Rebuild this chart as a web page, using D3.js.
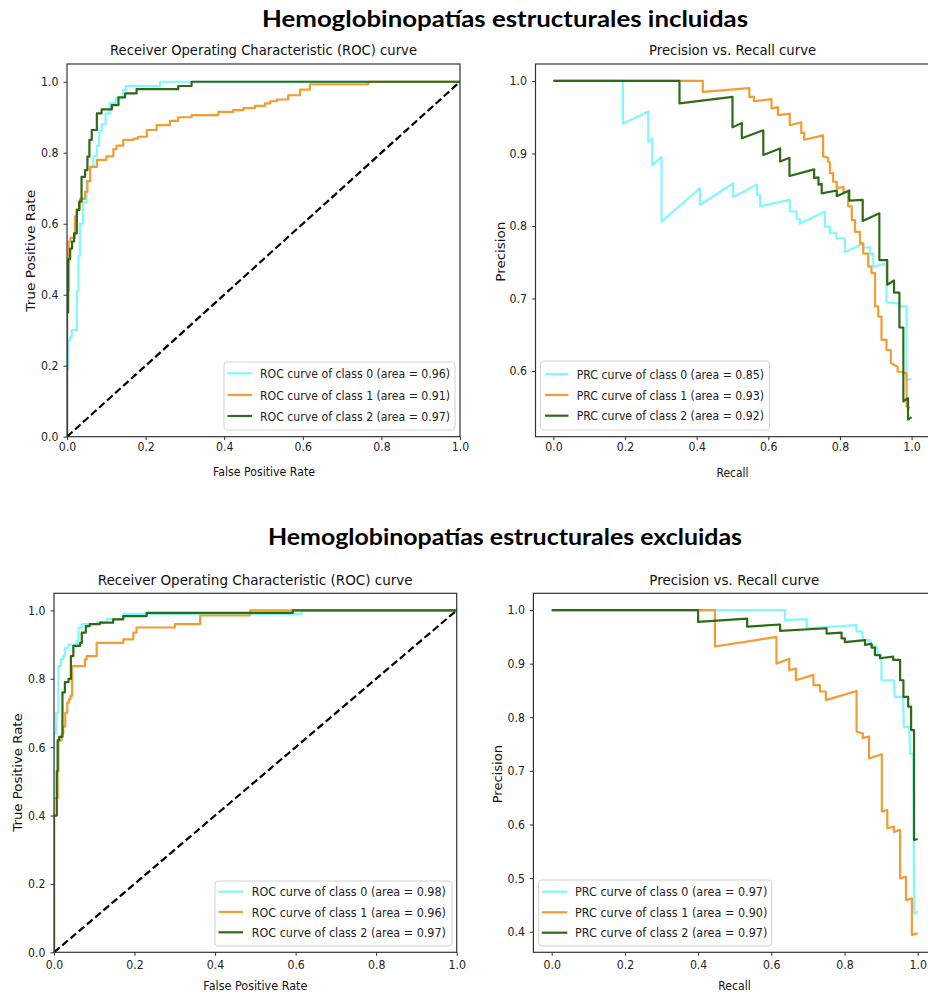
<!DOCTYPE html>
<html><head><meta charset="utf-8">
<script src="https://cdn.jsdelivr.net/npm/d3@7"></script>
<style>body{margin:0;background:#fff}svg{display:block}</style>
</head><body><svg id="c" width="928" height="994"></svg>
<script>
// ---------------- DATA ----------------
const headers = ["Hemoglobinopatías estructurales incluidas", "Hemoglobinopatías estructurales excluidas"];
const rocTitle = "Receiver Operating Characteristic (ROC) curve";
const prTitle = "Precision vs. Recall curve";
const classNames = ["class 0", "class 1", "class 2"];
const rocAreasIncl = [0.96, 0.91, 0.97];
const prcAreasIncl = [0.85, 0.93, 0.92];
const rocAreasExcl = [0.98, 0.96, 0.97];
const prcAreasExcl = [0.97, 0.90, 0.97];

const rocXTicks = [0, 0.2, 0.4, 0.6, 0.8, 1.0];
const rocYTicks = [0, 0.2, 0.4, 0.6, 0.8, 1.0];
const prXTicks = [0, 0.2, 0.4, 0.6, 0.8, 1.0];
const prYTicksIncl = [0.6, 0.7, 0.8, 0.9, 1.0];
const prYTicksExcl = [0.4, 0.5, 0.6, 0.7, 0.8, 0.9, 1.0];

// ROC curves: [fpr, tpr] corners (step after)
const rocInclClass0 = [[0,0],[0,0.19],[0.003,0.27],[0.008,0.28],[0.012,0.30],[0.025,0.41],[0.029,0.51],[0.033,0.60],[0.041,0.66],[0.05,0.72],[0.059,0.76],[0.067,0.79],[0.076,0.82],[0.082,0.86],[0.088,0.88],[0.098,0.91],[0.109,0.94],[0.125,0.955],[0.143,0.977],[0.15,0.988],[0.237,1.0],[1,1]];
const rocInclClass1 = [[0,0],[0,0.41],[0.004,0.55],[0.009,0.56],[0.02,0.62],[0.025,0.64],[0.033,0.67],[0.046,0.69],[0.052,0.72],[0.059,0.76],[0.076,0.78],[0.1,0.79],[0.118,0.81],[0.126,0.82],[0.143,0.836],[0.169,0.84],[0.181,0.845],[0.203,0.864],[0.228,0.878],[0.262,0.89],[0.283,0.90],[0.317,0.906],[0.385,0.915],[0.423,0.92],[0.449,0.926],[0.478,0.932],[0.504,0.939],[0.517,0.945],[0.534,0.95],[0.563,0.962],[0.593,0.978],[0.618,0.993],[0.767,1.0],[1,1]];
const rocInclClass2 = [[0,0],[0,0.35],[0.003,0.50],[0.008,0.53],[0.013,0.55],[0.018,0.573],[0.025,0.639],[0.031,0.662],[0.037,0.732],[0.046,0.751],[0.052,0.789],[0.057,0.836],[0.063,0.864],[0.076,0.911],[0.088,0.922],[0.114,0.934],[0.131,0.956],[0.148,0.967],[0.177,0.979],[0.283,0.988],[0.317,1.0],[1,1]];

const rocExclClass0 = [[0,0],[0,0.64],[0.005,0.70],[0.011,0.837],[0.017,0.857],[0.023,0.866],[0.027,0.89],[0.036,0.90],[0.056,0.91],[0.061,0.95],[0.069,0.96],[0.106,0.965],[0.131,0.975],[0.172,0.99],[0.615,1.0],[1,1]];
const rocExclClass1 = [[0,0],[0,0.45],[0.009,0.53],[0.011,0.62],[0.019,0.64],[0.023,0.66],[0.028,0.70],[0.033,0.73],[0.037,0.74],[0.041,0.75],[0.045,0.837],[0.077,0.857],[0.081,0.866],[0.106,0.905],[0.172,0.915],[0.197,0.935],[0.205,0.95],[0.3,0.96],[0.363,0.985],[0.487,1.0],[1,1]];
const rocExclClass2 = [[0,0],[0,0.40],[0.007,0.53],[0.009,0.62],[0.013,0.63],[0.021,0.76],[0.027,0.79],[0.036,0.80],[0.042,0.866],[0.048,0.896],[0.065,0.905],[0.069,0.935],[0.079,0.954],[0.089,0.96],[0.114,0.964],[0.147,0.974],[0.172,0.983],[0.23,0.993],[0.593,1.0],[1,1]];

// PR curves: [recall, precision]
const prInclClass0 = [[0,1],[0.194,1],[0.194,0.941],[0.265,0.958],[0.265,0.916],[0.276,0.921],[0.276,0.884],[0.302,0.895],[0.302,0.806],[0.409,0.852],[0.409,0.829],[0.502,0.859],[0.502,0.840],[0.568,0.857],[0.568,0.843],[0.577,0.843],[0.577,0.827],[0.66,0.836],[0.66,0.82],[0.679,0.82],[0.679,0.81],[0.688,0.81],[0.688,0.803],[0.758,0.82],[0.758,0.799],[0.772,0.799],[0.772,0.79],[0.79,0.79],[0.79,0.783],[0.814,0.783],[0.814,0.764],[0.865,0.776],[0.865,0.77],[0.884,0.771],[0.884,0.762],[0.893,0.762],[0.893,0.744],[0.93,0.748],[0.93,0.695],[0.967,0.693],[0.967,0.689],[0.986,0.689],[0.986,0.587],[1.0,0.59]];
const prInclClass1 = [[0,1],[0.417,1],[0.417,0.985],[0.547,0.99],[0.547,0.978],[0.56,0.978],[0.56,0.972],[0.609,0.975],[0.609,0.962],[0.627,0.964],[0.627,0.953],[0.66,0.955],[0.66,0.939],[0.692,0.943],[0.692,0.928],[0.7,0.929],[0.7,0.919],[0.753,0.925],[0.753,0.896],[0.767,0.894],[0.767,0.889],[0.772,0.887],[0.772,0.873],[0.781,0.873],[0.781,0.861],[0.791,0.861],[0.791,0.852],[0.81,0.854],[0.81,0.848],[0.823,0.846],[0.823,0.827],[0.833,0.827],[0.833,0.808],[0.842,0.808],[0.842,0.792],[0.856,0.792],[0.856,0.776],[0.865,0.776],[0.865,0.762],[0.879,0.762],[0.879,0.744],[0.888,0.744],[0.888,0.735],[0.898,0.735],[0.898,0.689],[0.907,0.689],[0.907,0.675],[0.916,0.675],[0.916,0.643],[0.93,0.643],[0.93,0.629],[0.942,0.629],[0.942,0.611],[0.961,0.606],[0.961,0.599],[0.977,0.599],[0.977,0.597],[0.986,0.597],[0.986,0.551],[0.995,0.549]];
const prInclClass2 = [[0,1],[0.352,1],[0.352,0.969],[0.5,0.978],[0.5,0.936],[0.526,0.942],[0.526,0.921],[0.586,0.932],[0.586,0.898],[0.633,0.907],[0.633,0.889],[0.659,0.894],[0.659,0.869],[0.728,0.878],[0.728,0.866],[0.74,0.867],[0.74,0.857],[0.749,0.858],[0.749,0.845],[0.791,0.849],[0.791,0.841],[0.826,0.849],[0.826,0.835],[0.8635,0.836],[0.8635,0.807],[0.91,0.8175],[0.91,0.753],[0.932,0.753],[0.932,0.719],[0.951,0.725],[0.951,0.708],[0.966,0.708],[0.966,0.66],[0.977,0.66],[0.977,0.558],[0.99,0.5625],[0.99,0.533],[1.0,0.5365]];

const prExclClass0 = [[0,1],[0.637,1],[0.637,0.981],[0.697,0.983],[0.697,0.966],[0.833,0.972],[0.833,0.96],[0.847,0.96],[0.852,0.944],[0.87,0.944],[0.874,0.935],[0.888,0.932],[0.892,0.916],[0.901,0.916],[0.901,0.869],[0.935,0.869],[0.937,0.838],[0.96,0.838],[0.962,0.782],[0.977,0.782],[0.979,0.732],[0.988,0.732],[0.99,0.434],[1.0,0.437]];
const prExclClass1 = [[0,1],[0.446,1],[0.446,0.932],[0.614,0.95],[0.614,0.9],[0.649,0.909],[0.649,0.888],[0.667,0.891],[0.667,0.869],[0.715,0.879],[0.715,0.86],[0.733,0.86],[0.733,0.848],[0.749,0.848],[0.749,0.832],[0.833,0.849],[0.833,0.773],[0.85,0.77],[0.85,0.761],[0.867,0.764],[0.867,0.723],[0.902,0.731],[0.902,0.624],[0.917,0.627],[0.917,0.593],[0.935,0.596],[0.935,0.586],[0.952,0.59],[0.952,0.4995],[0.968,0.5025],[0.968,0.459],[0.984,0.462],[0.984,0.394],[1.0,0.397]];
const prExclClass2 = [[0,1],[0.4,1],[0.4,0.978],[0.534,0.984],[0.534,0.969],[0.624,0.973],[0.624,0.961],[0.751,0.966],[0.751,0.956],[0.792,0.958],[0.792,0.947],[0.801,0.947],[0.801,0.94],[0.856,0.944],[0.856,0.935],[0.874,0.937],[0.874,0.93],[0.883,0.93],[0.883,0.916],[0.897,0.916],[0.897,0.91],[0.933,0.913],[0.933,0.907],[0.952,0.907],[0.952,0.869],[0.961,0.869],[0.961,0.838],[0.974,0.838],[0.974,0.82],[0.982,0.82],[0.982,0.776],[0.99,0.776],[0.99,0.571],[1.0,0.573]];

// ---------------- STYLE / LAYOUT ----------------
const colors = ["#80f8ff", "#f39c32", "#2f6a17"];
const FONT = "'DejaVu Sans', sans-serif";
const SQ = 0.9;

const svg = d3.select("#c");
function squeeze(sel, f) {
  sel.each(function () {
    const L = this.getComputedTextLength();
    this.setAttribute("textLength", L * f);
    this.setAttribute("lengthAdjust", "spacingAndGlyphs");
  });
}
function label(g, str, x, y, size, len, rot) {
  const t = g.append("text").attr("font-family", FONT).attr("font-size", size)
    .attr("fill", "#111").attr("text-anchor", "middle").text(str);
  if (rot) t.attr("transform", `translate(${x},${y}) rotate(-90)`);
  else t.attr("x", x).attr("y", y);
  if (len) t.attr("textLength", len).attr("lengthAdjust", "spacingAndGlyphs");
  return t;
}

// headers
[[headers[0], 27, 486], [headers[1], 545, 474]].forEach(([s, y, len]) => {
  svg.append("text").attr("x", 505).attr("y", y).attr("text-anchor", "middle")
    .attr("font-family", "Lato, 'Open Sans', sans-serif").attr("font-weight", 700)
    .attr("font-size", 23).attr("fill", "#000")
    .attr("textLength", len).attr("lengthAdjust", "spacingAndGlyphs").text(s);
});

const panels = [
  { kind: "roc", f: { l: 67, r: 460, t: 64, b: 436.7 }, xd: [0, 1], yd: [0, 1.05], xt: rocXTicks, yt: rocYTicks, xpad: 2.5,
    series: [rocInclClass0, rocInclClass1, rocInclClass2], areas: rocAreasIncl,
    title: [263.5, 55, 307], xl: ["False Positive Rate", 264, 476, 102], yl: ["True Positive Rate", 35, 250.8, 121.7],
    leg: { x: 224, y: 362, w: 231, h: 68, rows: [373.3, 395, 416], sw: [227.5, 252], tx: 260, tl: 190 } },
  { kind: "pr", f: { l: 535.5, r: 929.5, t: 64, b: 436.7 }, xd: [-0.05, 1.05], yd: [0.5094, 1.0234], xt: prXTicks, yt: prYTicksIncl, xpad: 2.5,
    series: [prInclClass0, prInclClass1, prInclClass2], areas: prcAreasIncl,
    title: [732.6, 55, 167], xl: ["Recall", 732.5, 476.5, 32], yl: ["Precision", 505, 251.7, 60],
    leg: { x: 540.5, y: 361, w: 229, h: 69, rows: [374, 395, 415.7], sw: [545, 568.5], tx: 576.7, tl: 187.3 } },
  { kind: "roc", f: { l: 54, r: 456.7, t: 593.3, b: 952.3 }, xd: [0, 1], yd: [0, 1.05], xt: rocXTicks, yt: rocYTicks, xpad: 4.5,
    series: [rocExclClass0, rocExclClass1, rocExclClass2], areas: rocAreasExcl,
    title: [255.2, 585, 315], xl: ["False Positive Rate", 255.3, 990, 104], yl: ["True Positive Rate", 22, 772.5, 118.4],
    leg: { x: 215, y: 881, w: 237, h: 65, rows: [891.7, 911.9, 932.3], sw: [218.5, 243], tx: 251.7, tl: 194.3 } },
  { kind: "pr", f: { l: 533.4, r: 936, t: 593.3, b: 952.3 }, xd: [-0.05, 1.05], yd: [0.3616, 1.0312], xt: prXTicks, yt: prYTicksExcl, xpad: 4.5,
    series: [prExclClass0, prExclClass1, prExclClass2], areas: prcAreasExcl,
    title: [734.3, 585, 170], xl: ["Recall", 734.5, 990, 32.4], yl: ["Precision", 502, 774.2, 58.3],
    leg: { x: 538.7, y: 880, w: 233, h: 66, rows: [891.7, 912.3, 932.7], sw: [541.7, 567.3], tx: 575, tl: 192.3 } }
];

panels.forEach((p, pi) => {
  const g = svg.append("g");
  const x = d3.scaleLinear().domain(p.xd).range([p.f.l, p.f.r]);
  const y = d3.scaleLinear().domain(p.yd).range([p.f.b, p.f.t]);
  const clipId = "clip" + pi;
  g.append("clipPath").attr("id", clipId).append("rect")
    .attr("x", p.f.l).attr("y", p.f.t).attr("width", p.f.r - p.f.l).attr("height", p.f.b - p.f.t);

  // axes
  const fmt = d3.format(".1f");
  const ax = g.append("g").attr("transform", `translate(0,${p.f.b})`)
    .call(d3.axisBottom(x).tickValues(p.xt).tickFormat(fmt).tickSize(3.5).tickPadding(p.xpad));
  const ay = g.append("g").attr("transform", `translate(${p.f.l},0)`)
    .call(d3.axisLeft(y).tickValues(p.yt).tickFormat(fmt).tickSize(3.5).tickPadding(5));
  [ax, ay].forEach(a => {
    a.select(".domain").remove();
    a.selectAll(".tick line").attr("stroke", "#333").attr("stroke-width", 1);
    a.selectAll(".tick text").attr("font-family", FONT).attr("font-size", 12.2).attr("fill", "#222");
    squeeze(a.selectAll(".tick text"), SQ);
  });

  // curves
  const lineGen = d3.line().x(d => x(d[0])).y(d => y(d[1]))
    .curve(p.kind === "roc" ? d3.curveStepAfter : d3.curveLinear);
  const cg = g.append("g").attr("clip-path", `url(#${clipId})`);
  p.series.forEach((s, i) => {
    cg.append("path").datum(s).attr("d", lineGen).attr("fill", "none")
      .attr("stroke", colors[i]).attr("stroke-width", 2.2).attr("stroke-linejoin", "round");
  });
  if (p.kind === "roc") {
    cg.append("path").datum([[0, 0], [1, 1]]).attr("d", d3.line().x(d => x(d[0])).y(d => y(d[1])))
      .attr("stroke", "#000").attr("stroke-width", 2.2).attr("stroke-dasharray", "7.4,3.4").attr("fill", "none");
  }

  // frame
  g.append("rect").attr("x", p.f.l).attr("y", p.f.t).attr("width", p.f.r - p.f.l).attr("height", p.f.b - p.f.t)
    .attr("fill", "none").attr("stroke", "#333").attr("stroke-width", 1.2);

  // texts
  label(g, p.kind === "roc" ? rocTitle : prTitle, p.title[0], p.title[1], 13.5, p.title[2]);
  label(g, p.xl[0], p.xl[1], p.xl[2], 12.5, p.xl[3]);
  label(g, p.yl[0], p.yl[1], p.yl[2], 12.5, p.yl[3], true);

  // legend
  const L = p.leg;
  const lg = g.append("g");
  lg.append("rect").attr("x", L.x).attr("y", L.y).attr("width", L.w).attr("height", L.h)
    .attr("rx", 3).attr("fill", "#fff").attr("fill-opacity", 0.85).attr("stroke", "#d2d2d2").attr("stroke-width", 1);
  const pre = p.kind === "roc" ? "ROC" : "PRC";
  p.areas.forEach((a, i) => {
    lg.append("line").attr("x1", L.sw[0]).attr("x2", L.sw[1]).attr("y1", L.rows[i]).attr("y2", L.rows[i])
      .attr("stroke", colors[i]).attr("stroke-width", 2.2);
    lg.append("text").attr("x", L.tx).attr("y", L.rows[i] + 4.6).attr("font-family", FONT).attr("font-size", 13)
      .attr("fill", "#222").attr("textLength", L.tl).attr("lengthAdjust", "spacingAndGlyphs")
      .text(`${pre} curve of ${classNames[i]} (area = ${a.toFixed(2)})`);
  });
});
</script></body></html>
